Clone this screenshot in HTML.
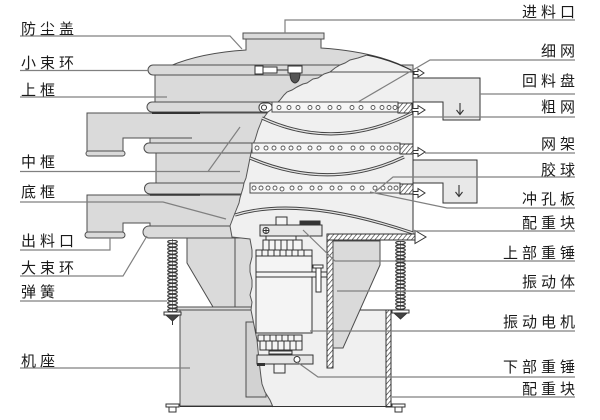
<!DOCTYPE html>
<html><head><meta charset="utf-8"><style>
html,body{margin:0;padding:0;background:#fff;}
svg{display:block;}
text{font-family:"Liberation Sans","Noto Sans CJK SC",sans-serif;font-size:15px;letter-spacing:4px;fill:#1a1a1a;}
</style></head><body>
<svg width="600" height="420" viewBox="0 0 600 420" xmlns="http://www.w3.org/2000/svg">
<defs>
<pattern id="h" width="3.5" height="3.5" patternUnits="userSpaceOnUse" patternTransform="rotate(40)">
<rect width="3.5" height="3.5" fill="#fff"/><line x1="0" y1="0" x2="0" y2="3.5" stroke="#333" stroke-width="1.3"/></pattern>
<pattern id="spr" width="11" height="3.6" patternUnits="userSpaceOnUse">
<ellipse cx="5.5" cy="1.8" rx="4.8" ry="1.6" fill="#fff" stroke="#333" stroke-width="1.1"/></pattern>
</defs>
<rect width="600" height="420" fill="#fff"/>

<!-- exterior gray parts -->
<g stroke="#4d4d4d" stroke-width="1" fill="#dadada">
<path d="M170,66 Q200,53 246,50 L246,39 L321,39 L321,48 Q380,52 413,71 L413,66 Z"/>
<rect x="243" y="33" width="81" height="6"/>
<rect x="155" y="75" width="258" height="27"/>
<path d="M153,65 H413 V75 H153 A5,5 0 0 1 153,65 Z"/>
<path d="M87,113 H413 V145 H150 V138 H123 V152 H87 Z"/>
<rect x="86" y="151" width="39" height="5" rx="2.5"/>
<path d="M152,102 H413 V112 H152 A5,5 0 0 1 152,102 Z"/>
<rect x="156" y="153" width="257" height="30"/>
<path d="M149,143 H413 V153 H149 A5,5 0 0 1 149,143 Z"/>
<path d="M87,195 H413 V227 H150 V223 H123 V233 H87 Z"/>
<rect x="85" y="232" width="40" height="6" rx="3"/>
<path d="M150,183 H413 V194 H150 A5.5,5.5 0 0 1 150,183 Z"/>
<path d="M149,226 H252 V238 H149 A6,6 0 0 1 149,226 Z"/>
<path d="M187,238 H253 V307 H213 L187,263 Z"/>
<rect x="177" y="307" width="80" height="3"/>
<rect x="180" y="310" width="95" height="96"/>
<rect x="246" y="322" width="20" height="75" fill="#d2d2d2"/>
</g>
<line x1="235" y1="238" x2="235" y2="307" stroke="#4d4d4d"/>
<line x1="123" y1="138" x2="192" y2="138" stroke="#4d4d4d"/>
<line x1="152" y1="113" x2="200" y2="113" stroke="#333" stroke-width="2"/>
<line x1="150" y1="195" x2="200" y2="195" stroke="#333" stroke-width="1.5"/>

<!-- exterior clamp bolt & nut -->
<g stroke="#333" stroke-width="1" fill="#fff">
<rect x="255" y="66" width="8" height="8"/><rect x="263" y="67" width="14" height="6"/>
<line x1="277" y1="70" x2="289" y2="70"/>
<rect x="288" y="66" width="14" height="7"/>
<path d="M290,73 H300 Q300,82 295,83 Q290,82 290,73 Z" fill="#555"/>
<rect x="259" y="103" width="13" height="9" rx="4"/>
<circle cx="264" cy="107.5" r="2.5"/>
</g>

<!-- interior cutaway -->
<path d="M367,55 Q392,60 413,71 L413,240 L333,240 L333,310 L386,310 L386,407 L273,407 L270,400 L265,392 L262,384 L261,377 L259,360 L258,350 L257,340 L254,325 L251,310 L252,302 L250,295 L252,287 L252,280 L250,272 L250,265 L252,257 L252,250 L250,239 L232,237 L230,226 L233,218 L235,213 L237,208 L239,203 L240,198 L243,188 L244,183 L246,178 L248,168 L249,163 L250,158 L252,148 L253,144 L255,140 L258,130 L260,125 L262,120 L268,112 L272,109 L275,105 L280,100 L284,95 L287,92 L292,90 L297,87 L303,84 L307,83 L313,79 L318,78 L324,74 L330,72 L335,68 L340,65 L345,63 L350,60 L358,58 Z" fill="#f0f0f0"/>
<path d="M367,55 L358,58 L350,60 L345,63 L340,65 L335,68 L330,72 L324,74 L318,78 L313,79 L307,83 L303,84 L297,87 L292,90 L287,92 L284,95 L280,100 L275,105 L272,109 L268,112 L262,120 L260,125 L258,130 L255,140 L253,144 L252,148 L250,158 L249,163 L248,168 L246,178 L244,183 L243,188 L240,198 L239,203 L237,208 L235,213 L233,218 L230,226 L232,237 L250,239 L252,250 L252,257 L250,265 L250,272 L252,280 L252,287 L250,295 L252,302 L251,310 L254,325 L257,340 L258,350 L259,360 L261,377 L262,384 L265,392 L270,400 L273,407" fill="none" stroke="#555" stroke-width="1"/>
<path d="M367,55 Q392,60 413,71" fill="none" stroke="#333" stroke-width="1.2"/>
<line x1="330" y1="72" x2="413" y2="72" stroke="#4d4d4d"/>
<line x1="413" y1="71" x2="413" y2="234" stroke="#333"/>

<!-- trays -->
<g stroke="#333" stroke-width="1" fill="#e8e8e8">
<path d="M413,78 H480 V120 H443 V102 H413 Z"/>
<path d="M413,160 H477 V203 H443 V183 H413 Z"/>
</g>
<g stroke="#333" stroke-width="1.1" fill="none">
<path d="M460,103 V114 M456.5,110 L460,114.5 L463.5,110"/>
<path d="M459,185 V196 M455.5,192 L459,196.5 L462.5,192"/>
</g>

<!-- screen bands -->
<g stroke="#4d4d4d" stroke-width="1" fill="#f6f6f6">
<rect x="272" y="102" width="126" height="10"/>
<rect x="252" y="143" width="148" height="10"/>
<rect x="250" y="183" width="150" height="10"/>
</g>
<g fill="url(#h)" stroke="#333" stroke-width="1">
<rect x="398" y="103" width="14" height="10"/>
<rect x="400" y="144" width="13" height="10"/>
<rect x="400" y="184" width="13" height="10"/>
</g>
<g fill="#fff" stroke="#555" stroke-width="0.9">
<circle cx="279" cy="107.5" r="2"/><circle cx="289" cy="107.5" r="2"/><circle cx="298" cy="107.5" r="2"/><circle cx="310" cy="107.5" r="2"/><circle cx="318" cy="107.5" r="2"/><circle cx="330" cy="107.5" r="2"/><circle cx="339" cy="107.5" r="2"/><circle cx="352" cy="107.5" r="2"/><circle cx="361" cy="107.5" r="2"/><circle cx="373" cy="107.5" r="2"/><circle cx="382" cy="107.5" r="2"/><circle cx="389" cy="107.5" r="2"/><circle cx="395" cy="107.5" r="2"/>
<circle cx="257" cy="148" r="2"/><circle cx="266" cy="148" r="2"/><circle cx="274" cy="148" r="2"/><circle cx="283" cy="148" r="2"/><circle cx="291" cy="148" r="2"/><circle cx="299" cy="148" r="2"/><circle cx="310" cy="148" r="2"/><circle cx="319" cy="148" r="2"/><circle cx="332" cy="148" r="2"/><circle cx="340" cy="148" r="2"/><circle cx="353" cy="148" r="2"/><circle cx="362" cy="148" r="2"/><circle cx="373" cy="148" r="2"/><circle cx="382" cy="148" r="2"/><circle cx="389" cy="148" r="2"/><circle cx="396" cy="148" r="2"/>
<circle cx="254" cy="188" r="2"/><circle cx="261" cy="188" r="2"/><circle cx="268" cy="188" r="2"/><circle cx="275" cy="188" r="2"/><circle cx="282" cy="189" r="2"/><circle cx="292" cy="188" r="2"/><circle cx="300" cy="188" r="2"/><circle cx="312" cy="188" r="2"/><circle cx="320" cy="188" r="2"/><circle cx="332" cy="188" r="2"/><circle cx="340" cy="188" r="2"/><circle cx="353" cy="188" r="2"/><circle cx="362" cy="188" r="2"/><circle cx="375" cy="188" r="2"/><circle cx="383" cy="188" r="2"/><circle cx="390" cy="188" r="2"/><circle cx="396" cy="188" r="2"/>
</g>

<!-- mesh arcs -->
<g fill="none">
<path d="M262,118 Q335,152 412,113" stroke="#444" stroke-width="3.2"/>
<path d="M262,118 Q335,152 412,113" stroke="#e4e4e4" stroke-width="1.3"/>
<path d="M250,158 Q330,192 404,157" stroke="#444" stroke-width="3.2"/>
<path d="M250,158 Q330,192 404,157" stroke="#e4e4e4" stroke-width="1.3"/>
<path d="M235,215 Q300,195 413,233" stroke="#444" stroke-width="3.2"/>
<path d="M235,215 Q300,195 413,233" stroke="#e4e4e4" stroke-width="1.3"/>
</g>

<!-- arrows -->
<g fill="#fff" stroke="#333" stroke-width="1">
<path d="M414,71.5 H418 V69 L424,73 L418,77 V74.5 H414 Z"/>
<path d="M412,108.5 H418 V105.5 L425,110 L418,114.5 V111.5 H412 Z"/>
<path d="M413,150.5 H418 V147.5 L425,152 L418,156.5 V153.5 H413 Z"/>
<path d="M413,191.5 H418 V188.5 L425,193 L418,197.5 V194.5 H413 Z"/>
</g>

<!-- hatched bars -->
<rect x="327" y="235" width="6" height="133" fill="url(#h)" stroke="#333"/>
<rect x="327" y="234" width="88" height="6" fill="url(#h)" stroke="#333"/>
<path d="M415,230.5 L426,237 L415,243.5 Z" fill="#fff" stroke="#333"/>
<path d="M333,241 H380 V265 L343,348 H333 Z" fill="#dadada" stroke="#4d4d4d"/>
<rect x="386" y="310" width="5" height="97" fill="url(#h)" stroke="#333"/>
<line x1="360" y1="310" x2="391" y2="310" stroke="#333"/>
<line x1="180" y1="406.5" x2="391" y2="406.5" stroke="#333"/>

<!-- motor -->
<g stroke="#333" stroke-width="1" fill="#f4f4f4">
<rect x="260" y="225" width="62" height="11" fill="#e6e6e6"/>
<circle cx="266" cy="230.5" r="3" fill="#fff"/>
<rect x="276" y="217" width="11" height="8"/>
<rect x="300" y="221" width="20" height="4" fill="#333"/>
<rect x="266" y="236" width="30" height="4"/>
<rect x="263" y="240" width="39" height="10"/>
<rect x="256" y="250" width="56" height="6"/>
<rect x="256" y="256" width="56" height="77"/>
<rect x="256" y="272" width="71" height="5"/>
<rect x="313" y="265" width="10" height="3" fill="#fff"/>
<rect x="316" y="268" width="5" height="24" fill="#fff"/>
<rect x="258" y="335" width="44" height="6"/>
<rect x="260" y="341" width="42" height="9"/>
<rect x="269" y="351" width="23" height="3"/>
<rect x="257" y="355" width="56" height="9" fill="#e6e6e6"/>
<circle cx="297" cy="359.5" r="3" fill="#fff"/>
<rect x="274" y="364" width="11" height="9"/>
</g>
<rect x="257" y="363" width="8" height="3" fill="#333"/>
<g stroke="#333" stroke-width="1">
<path d="M269,240 V250 M275,240 V250 M281,240 V250 M287,240 V250 M293,240 V250 M262,250 V256 M268,250 V256 M274,250 V256 M280,250 V256 M286,250 V256 M292,250 V256 M298,250 V256 M304,250 V256 M264,335 V341 M270,335 V341 M276,335 V341 M282,335 V341 M288,335 V341 M294,335 V341 M266,341 V350 M272,341 V350 M278,341 V350 M284,341 V350 M290,341 V350 M296,341 V350 M263.5,230.5 H268.5 M266,228 V233"/>
</g>

<!-- springs -->
<g transform="translate(167,240)"><rect width="11" height="72" fill="url(#spr)"/></g>
<g transform="translate(395,241)"><rect width="11" height="69" fill="url(#spr)"/></g>
<line x1="172.5" y1="239" x2="172.5" y2="312" stroke="#333" stroke-width="0.6"/>
<line x1="400.5" y1="241" x2="400.5" y2="310" stroke="#333" stroke-width="0.6"/>
<g fill="#fff" stroke="#333" stroke-width="1">
<rect x="164" y="312" width="17" height="3"/>
<path d="M166,315 H179 L172.5,321 Z" fill="#444"/>
<rect x="392" y="310" width="17" height="3"/>
<path d="M394,313 H407 L400.5,319 Z" fill="#444"/>
<rect x="166" y="404" width="13" height="3"/>
<rect x="169" y="407" width="7" height="5"/>
<rect x="392" y="404" width="13" height="3"/>
<rect x="395" y="407" width="7" height="5"/>
</g>
<line x1="172.5" y1="321" x2="172.5" y2="325" stroke="#333"/>

<!-- leader lines -->
<g fill="none" stroke="#808080" stroke-width="1.2">
<path d="M20,36 H230 L242,49"/>
<path d="M20,70.5 H148"/>
<path d="M20,97 H167"/>
<path d="M20,171.5 H240 M208,171.5 L240,127"/>
<path d="M20,202 H163 L226,219"/>
<path d="M20,250 H110 V238"/>
<path d="M20,276 H123 L147,236"/>
<path d="M20,301 H167"/>
<path d="M20,368 H190"/>
<path d="M285,33 V20 H575"/>
<path d="M358,102 L430,60 H575"/>
<path d="M480,94 H575"/>
<path d="M413,117 H575"/>
<path d="M425,153 H575"/>
<path d="M375,192 L393,177 H575"/>
<path d="M370,192 L447,208 H575"/>
<path d="M413,231 H575"/>
<path d="M303,230 L335,261 H575"/>
<path d="M337,291 H575"/>
<path d="M310,331 H575"/>
<path d="M297,362 L318,377 H575"/>
<path d="M392,397 H575"/>
</g>

<!-- labels left -->
<text x="21" y="34">防尘盖</text>
<text x="21" y="68">小束环</text>
<text x="21" y="95">上框</text>
<text x="21" y="167">中框</text>
<text x="21" y="197">底框</text>
<text x="21" y="246">出料口</text>
<text x="21" y="273">大束环</text>
<text x="21" y="297">弹簧</text>
<text x="21" y="366">机座</text>

<!-- labels right -->
<text x="522" y="17">进料口</text>
<text x="541" y="56">细网</text>
<text x="522" y="86">回料盘</text>
<text x="541" y="112">粗网</text>
<text x="541" y="149">网架</text>
<text x="541" y="175">胶球</text>
<text x="522" y="204">冲孔板</text>
<text x="522" y="228">配重块</text>
<text x="503" y="258">上部重锤</text>
<text x="522" y="287">振动体</text>
<text x="503" y="327">振动电机</text>
<text x="503" y="372">下部重锤</text>
<text x="522" y="394">配重块</text>
</svg>
</body></html>
